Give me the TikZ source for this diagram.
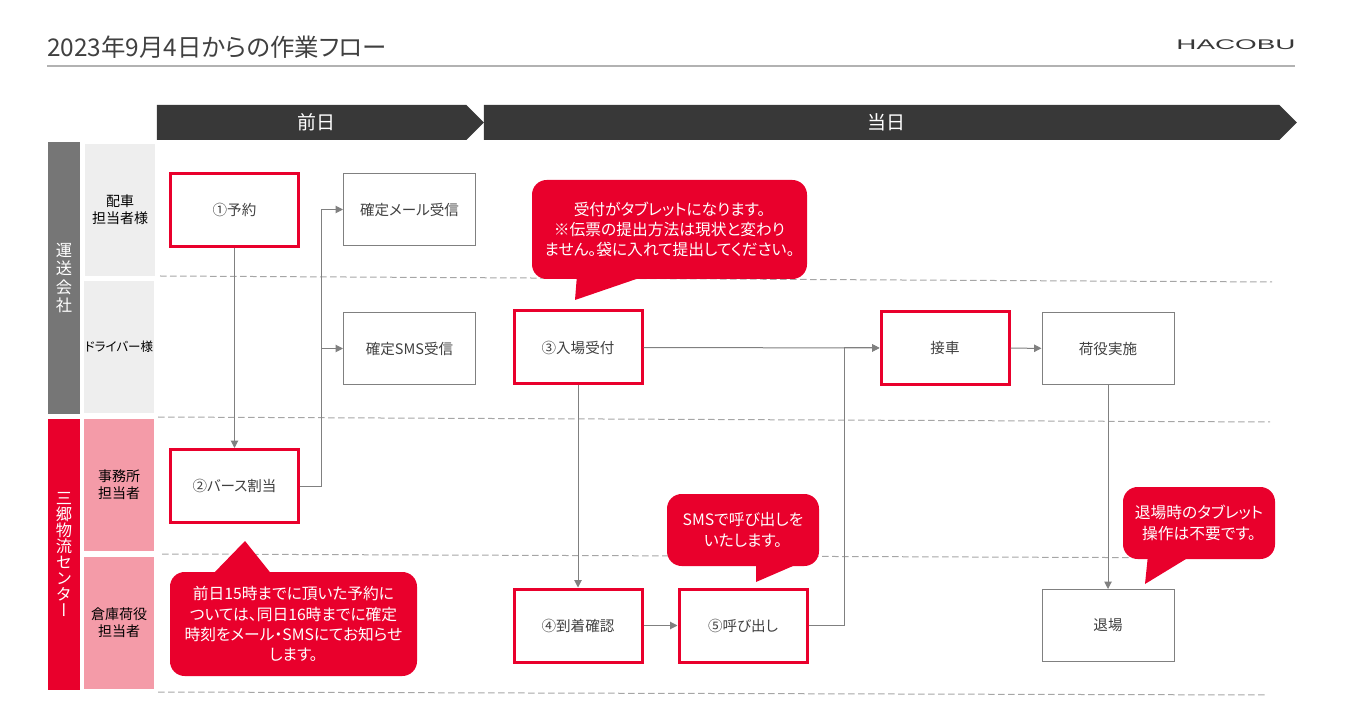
\documentclass[tikz,border=0pt]{standalone}
\usepackage{fontspec}
\setmainfont{Noto Sans CJK JP}[RawFeature={+palt}]
\newfontfamily\vertfont{Noto Sans CJK JP}[RawFeature={+vert}]
\newfontfamily\logofont{Liberation Sans}
\usetikzlibrary{arrows.meta, positioning, shapes.symbols}
\definecolor{hcred}{HTML}{E9002C}
\definecolor{hcdark}{HTML}{383838}
\definecolor{hcgray}{HTML}{767676}
\definecolor{hcpale}{HTML}{EEEEEE}
\definecolor{hcpink}{HTML}{F49BA8}
\definecolor{hcline}{HTML}{808080}
\definecolor{hctext}{HTML}{404040}
\begin{document}
\begin{tikzpicture}[x=0.75pt, y=-0.75pt,
  phase/.style={signal, signal to=east, signal from=nowhere, signal pointer angle=90, fill=hcdark,
                text=white, font=\fontsize{14.2}{16}\selectfont, minimum height=26.25pt, inner xsep=0pt, inner ysep=0pt, outer sep=0pt},
  company/.style={minimum width=24pt, text=white, align=center, inner sep=0pt,
                  font=\vertfont\fontsize{12.2}{13.6}\selectfont},
  lane/.style={minimum width=52.5pt, minimum height=99pt, inner sep=0pt, align=center, text=black,
               font=\fontsize{10.5}{13}\selectfont},
  box/.style={draw=hcline, line width=0.75pt, minimum width=99pt, minimum height=54pt, inner sep=0pt,
              align=center, text=hctext, font=\fontsize{10.9}{14}\selectfont},
  key/.style={box, draw=hcred, line width=2.25pt, minimum width=96pt, minimum height=54.75pt},
  note/.style={fill=hcred, rounded corners=11pt, text=white, align=center, inner sep=0pt,
               font=\fontsize{11.8}{15.2}\selectfont},
  tail/.style={fill=hcred},
  sep/.style={draw=hcline!70, line width=0.75pt, dash pattern=on 5pt off 2.5pt},
  a/.style={draw=hcline, line width=0.75pt, -{Triangle[length=5.5pt, width=5.5pt]}}]
  \useasboundingbox (0,0) rectangle (1345,712);

  % header
  \node[anchor=west, inner sep=0pt, text=hctext, font=\fontsize{18.3}{20}\selectfont] (title) at (47,47) {2023年9月4日からの作業フロー};
  \node[inner sep=0pt, text=hcdark] (logo) at (1236,45) {\scalebox{1.99}[1]{\logofont\fontsize{10.5}{12}\selectfont HACOBU}};
  \coordinate (ruleL) at (47,66);
  \coordinate (ruleR) at (1295,66);
  \draw[draw=black!30, line width=1.5pt] (ruleL) -- (ruleR);

  \node[phase, minimum width=245.25pt] (before) at (311.5,122.5) {\kern7pt 前日};
  \node[phase, minimum width=609.75pt] (today) at (881.5,122.5) {\kern7pt 当日};

  % lanes
  \node[company, fill=hcgray, minimum height=204pt] (carrier) at (64,278) {運\\送\\会\\社};
  \node[company, fill=hcred, minimum height=203.25pt, font=\vertfont\fontsize{12.2}{12}\selectfont] (center) at (64,554.5) {三\\郷\\物\\流\\セ\\ン\\タ\\ー};
  \node[lane, fill=hcpale] (haisha) at (120,210) {配車\\担当者様};
  \node[lane, fill=hcpale, font=\fontsize{9.4}{13}\selectfont] (driver) at (119,347) {ドライバー様};
  \node[lane, fill=hcpink] (office) at (119,485) {事務所\\担当者};
  \node[lane, fill=hcpink] (soko) at (119,623) {倉庫荷役\\担当者};

  % lane borders
  \coordinate (s1a) at (160,276);  \coordinate (s1b) at (1272,282);
  \coordinate (s2a) at (158,417);  \coordinate (s2b) at (1270,422);
  \coordinate (s3a) at (162,554);  \coordinate (s3b) at (1240,558);
  \coordinate (s4a) at (158,692);  \coordinate (s4b) at (1267,695);
  \draw[sep] (s1a) -- (s1b);
  \draw[sep] (s2a) -- (s2b);
  \draw[sep] (s3a) -- (s3b);
  \draw[sep] (s4a) -- (s4b);

  % steps
  \node[key] (yoyaku) at (234.5,210) {①予約};
  \node[box] (mail) at (409.5,209.5) {確定メール受信};
  \node[box] (sms) at (409.5,348.5) {確定SMS受信};
  \node[key] (berth) at (234.5,486) {②バース割当};
  \node[key] (uketsuke) at (578,347.5) {③入場受付};
  \node[key] (setsusha) at (945,348) {接車};
  \node[box] (niyaku) at (1108,348.5) {荷役実施};
  \node[key] (tochaku) at (578,625.5) {④到着確認};
  \node[key] (yobi) at (743,625.5) {⑤呼び出し};
  \node[box] (taijo) at (1108,625.5) {退場};

  % flows
  \draw[a] (yoyaku) -- (berth);
  \draw[a] (berth.east) -- ++(21,0) |- (mail.west);
  \draw[a] (berth.east) -- ++(21,0) |- (sms.west);
  \draw[a] (uketsuke) -- (setsusha);
  \draw[a] (uketsuke) -- (tochaku);
  \draw[a] (tochaku) -- (yobi);
  \draw[a] (yobi.east) -- ++(36,0) |- (setsusha.west);
  \draw[a] (setsusha) -- (niyaku);
  \draw[a] (niyaku) -- (taijo);

  % notes
  \node[note, minimum width=206.25pt, minimum height=74.25pt] (noteA) at (669.5,229.5)
    {受付がタブレットになります。\\※伝票の提出方法は現状と変わり\\ません。袋に入れて提出してください。};
  \fill[tail] (577,275) -- (575,300) -- (648,275) -- cycle;
  \node[note, minimum width=185.25pt, minimum height=78pt] (noteB) at (293.5,624)
    {前日15時までに頂いた予約に\\ついては、同日16時までに確定\\時刻をメール・SMSにてお知らせ\\します。};
  \fill[tail] (211,576) -- (245,541) -- (273,576) -- cycle;
  \node[note, minimum width=114pt, minimum height=54pt] (noteC) at (743,530)
    {SMSで呼び出しを\\いたします。};
  \fill[tail] (756,562) -- (756,582) -- (793,566) -- cycle;
  \node[note, minimum width=114pt, minimum height=54pt] (noteD) at (1199,523)
    {退場時のタブレット\\操作は不要です。};
  \fill[tail] (1148,555) -- (1145,584) -- (1186,559) -- cycle;
\end{tikzpicture}
\end{document}
